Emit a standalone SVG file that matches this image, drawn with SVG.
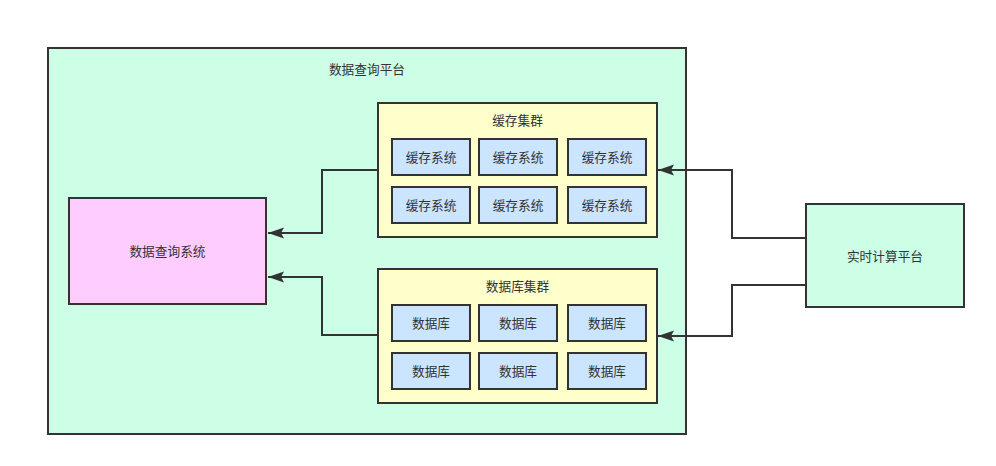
<svg xmlns="http://www.w3.org/2000/svg" width="996" height="466" viewBox="0 0 996 466">
<defs>
<style>
.b{stroke:#333333;stroke-width:2}
.g{fill:#ccffe6}
.y{fill:#ffffcc}
.i{fill:#cce5ff}
.p{fill:#ffccff}
text{font-family:"Noto Sans CJK SC","Noto Sans",sans-serif;font-size:12.7px;fill:#333333;text-anchor:middle;dominant-baseline:central}
.c{fill:none;stroke:#333333;stroke-width:2}
</style>
<marker id="a" markerWidth="17" markerHeight="12" refX="16" refY="5.5" orient="auto" markerUnits="userSpaceOnUse" viewBox="0 0 17 11">
<path d="M0,0 L16,5.5 L0,11 L3,5.5 Z" fill="#333333"/>
</marker>
</defs>
<rect width="996" height="466" fill="#ffffff"/>
<g id="platform">
<rect class="b g" x="48" y="48" width="638" height="386"/>
<text x="367" y="68">数据查询平台</text>
</g>
<g id="cache-cluster">
<rect class="b y" x="378" y="103" width="279" height="134"/>
<text x="517.5" y="119">缓存集群</text>
</g>
<g id="cache1"><rect class="b i" x="392" y="139" width="78" height="36"/><text x="431" y="156.5">缓存系统</text></g>
<g id="cache2"><rect class="b i" x="479" y="139" width="78" height="36"/><text x="518" y="156.5">缓存系统</text></g>
<g id="cache3"><rect class="b i" x="568" y="139" width="78" height="36"/><text x="607" y="156.5">缓存系统</text></g>
<g id="cache4"><rect class="b i" x="392" y="187" width="78" height="36"/><text x="431" y="204.5">缓存系统</text></g>
<g id="cache5"><rect class="b i" x="479" y="187" width="78" height="36"/><text x="518" y="204.5">缓存系统</text></g>
<g id="cache6"><rect class="b i" x="568" y="187" width="78" height="36"/><text x="607" y="204.5">缓存系统</text></g>
<g id="db-cluster">
<rect class="b y" x="378" y="269" width="279" height="134"/>
<text x="517.5" y="285">数据库集群</text>
</g>
<g id="db1"><rect class="b i" x="392" y="305" width="78" height="36"/><text x="431" y="322.5">数据库</text></g>
<g id="db2"><rect class="b i" x="479" y="305" width="78" height="36"/><text x="518" y="322.5">数据库</text></g>
<g id="db3"><rect class="b i" x="568" y="305" width="78" height="36"/><text x="607" y="322.5">数据库</text></g>
<g id="db4"><rect class="b i" x="392" y="353" width="78" height="36"/><text x="431" y="370.5">数据库</text></g>
<g id="db5"><rect class="b i" x="479" y="353" width="78" height="36"/><text x="518" y="370.5">数据库</text></g>
<g id="db6"><rect class="b i" x="568" y="353" width="78" height="36"/><text x="607" y="370.5">数据库</text></g>
<g id="query-system">
<rect class="b p" x="69" y="198" width="197" height="106"/>
<text x="167.5" y="250.5">数据查询系统</text>
</g>
<g id="realtime">
<rect class="b g" x="806" y="204" width="158" height="103"/>
<text x="885" y="255.5">实时计算平台</text>
</g>
<g id="connectors">
<path class="c" d="M378,170 H322 V233 H268" marker-end="url(#a)"/>
<path class="c" d="M378,335 H322 V277 H268" marker-end="url(#a)"/>
<path class="c" d="M806,238 H732 V170 H658" marker-end="url(#a)"/>
<path class="c" d="M806,285 H732 V336 H658" marker-end="url(#a)"/>
</g>
</svg>
